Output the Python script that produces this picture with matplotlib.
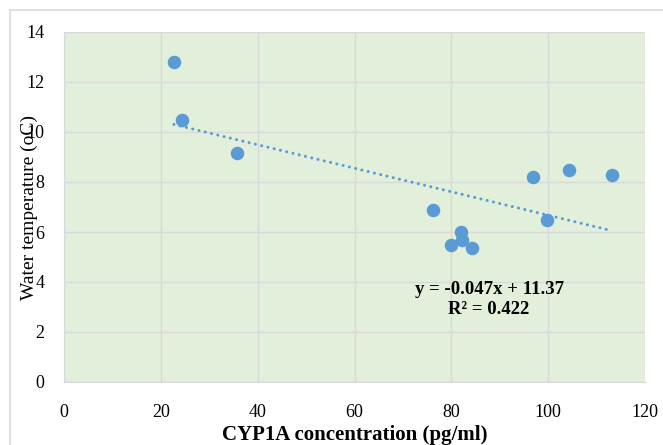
import matplotlib
matplotlib.use("Agg")
import matplotlib.pyplot as plt
from matplotlib.patches import Rectangle
import numpy as np

plt.rcParams['font.family'] = ['Liberation Serif', 'DejaVu Serif']

# CYP1A concentration (pg/ml) vs water temperature (°C)
cyp1a = [22.7, 24.3, 35.7, 76.3, 96.9, 104.3, 113.2, 99.7, 81.9, 82.1, 80.0, 84.3]
water_temp = [12.8, 10.49, 9.17, 6.88, 8.2, 8.48, 8.29, 6.49, 6.0, 5.69, 5.48, 5.38]

# Linear trendline coefficients
slope = -0.047
intercept = 11.37
r_squared = 0.422

x_ticks = [0, 20, 40, 60, 80, 100, 120]
y_ticks = [0, 2, 4, 6, 8, 10, 12, 14]

blue = '#5B9BD5'

fig = plt.figure(figsize=(6.63, 4.45), dpi=100)
fig.patch.set_facecolor('white')
# chart-area border
fig.patches.append(Rectangle((10 / 663, -0.1), 1.2, 1 - 10 / 445 + 0.1,
                             transform=fig.transFigure, fill=False,
                             edgecolor='#D9D9D9', linewidth=1.2))

ax = fig.add_axes([64 / 663, 1 - 382 / 445, (645 - 64) / 663, (382 - 32) / 445])
ax.set_facecolor('#E2EFDA')
ax.set_xlim(0, 120)
ax.set_ylim(0, 14)
ax.set_xticks(x_ticks)
ax.set_yticks(y_ticks)
ax.grid(True, color='#D9D9D9', linewidth=1.0)
ax.set_axisbelow(True)
for side in ['top', 'right']:
    ax.spines[side].set_visible(False)
for side in ['left', 'bottom']:
    ax.spines[side].set_color('#D9D9D9')
ax.tick_params(length=0, labelsize=13, pad=16, colors='black')
ax.tick_params(axis='y', pad=14)

ax.scatter(cyp1a, water_temp, s=95, color=blue, zorder=3, linewidths=0)

xt = np.array([min(cyp1a), max(cyp1a)])
ax.plot(xt, slope * xt + intercept, linestyle=(0, (0.01, 2.1)), color=blue,
        linewidth=2.2, dash_capstyle='round', zorder=2)

ax.text(87.8, 3.72, f"y = {slope}x + {intercept}", ha='center', va='center',
        fontsize=13.5, fontweight='bold')
ax.text(87.8, 2.92, f"R² = {r_squared}", ha='center', va='center',
        fontsize=13.5, fontweight='bold')

ax.set_xlabel('CYP1A concentration (pg/ml)', fontsize=15, fontweight='bold',
              labelpad=3)
fig.text(29 / 663, 1 - 208 / 445, 'Water temperature (oC)', rotation=90,
         ha='center', va='center', fontsize=14)

fig.savefig('out.png', dpi=100)
